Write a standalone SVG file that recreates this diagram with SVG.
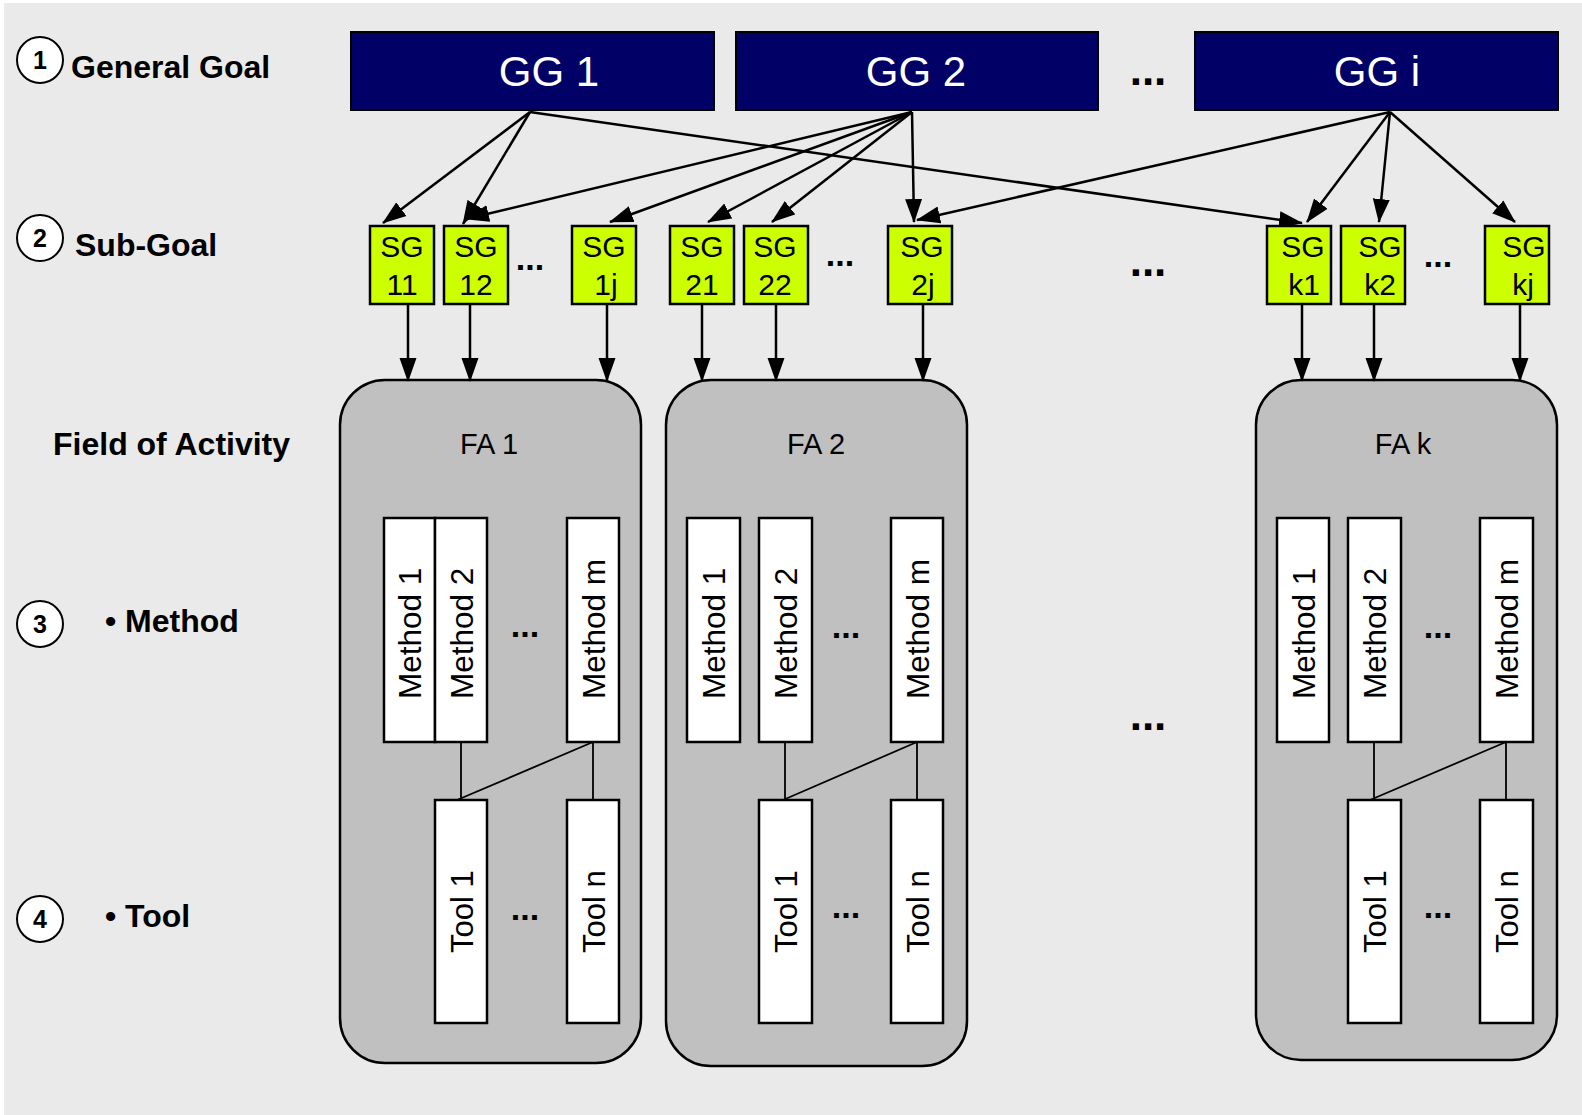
<svg xmlns="http://www.w3.org/2000/svg" width="1582" height="1115" viewBox="0 0 1582 1115">
<style>
text{font-family:"Liberation Sans",Arial,sans-serif;fill:#000}
.lbl{font-size:32px;font-weight:bold}
.num{font-size:25px;font-weight:bold;text-anchor:middle}
.circ{fill:#fff;stroke:#000;stroke-width:2}
.gg{fill:#000066;stroke:#000;stroke-width:2}
.ggt{font-size:42px;fill:#fff;text-anchor:middle}
.sg{fill:#ccff00;stroke:#000;stroke-width:2.5}
.sgt{font-size:30px;text-anchor:middle}
.fa{fill:#c0c0c0;stroke:#000;stroke-width:2.5}
.fat{font-size:29px;text-anchor:middle}
.box{fill:#fff;stroke:#000;stroke-width:2.5}
.vt{font-size:31.5px}
.vtt{font-size:31px}
.dots{font-size:34px;font-weight:bold;text-anchor:middle}
.bdots{font-size:44px;font-weight:bold;text-anchor:middle}
.arr{stroke:#000;stroke-width:2.5;fill:none;marker-end:url(#ah)}
.ln{stroke:#000;stroke-width:1.8;fill:none}
</style>
<defs>
<marker id="ah" markerUnits="userSpaceOnUse" markerWidth="24" markerHeight="18" refX="23" refY="8.5" orient="auto" viewBox="0 0 24 17">
<path d="M0,0 L24,8.5 L0,17 Z" fill="#000"/>
</marker>
</defs>
<rect x="4" y="3" width="1578" height="1112" fill="#eaeaea"/>

<g id="legend">
<circle class="circ" cx="40" cy="60" r="23"/><text class="num" x="40" y="69">1</text>
<text class="lbl" x="71" y="78">General Goal</text>
<circle class="circ" cx="40" cy="238" r="23"/><text class="num" x="40" y="247">2</text>
<text class="lbl" x="75" y="256">Sub-Goal</text>
<text class="lbl" x="53" y="455">Field of Activity</text>
<circle class="circ" cx="40" cy="624" r="23"/><text class="num" x="40" y="633">3</text>
<text class="lbl" x="105" y="632">• Method</text>
<circle class="circ" cx="40" cy="919" r="23"/><text class="num" x="40" y="928">4</text>
<text class="lbl" x="105" y="927">• Tool</text>
</g>

<g id="fa1">
<rect class="fa" x="340" y="380" width="301" height="683" rx="45" ry="45"/>
<text class="fat" x="489" y="454">FA 1</text>
</g>
<g id="fa2">
<rect class="fa" x="666" y="380" width="301" height="686" rx="45" ry="45"/>
<text class="fat" x="816" y="454">FA 2</text>
</g>
<g id="fak">
<rect class="fa" x="1256" y="380" width="301" height="680" rx="45" ry="45"/>
<text class="fat" x="1403" y="454">FA k</text>
</g>

<g id="connectors">
<path class="arr" d="M530,112 L383,223"/>
<path class="arr" d="M530,112 L463,224"/>
<path class="arr" d="M530,112 L1302,223"/>
<path class="arr" d="M912,112 L466,219"/>
<path class="arr" d="M912,112 L610,222"/>
<path class="arr" d="M912,112 L708,222"/>
<path class="arr" d="M912,112 L772,222"/>
<path class="arr" d="M912,112 L914,222"/>
<path class="arr" d="M1390,112 L917,220"/>
<path class="arr" d="M1390,112 L1307,222"/>
<path class="arr" d="M1390,112 L1379,222"/>
<path class="arr" d="M1390,112 L1515,222"/>
<path class="arr" d="M408,305 L408,381"/>
<path class="arr" d="M470,305 L470,381"/>
<path class="arr" d="M607,305 L607,381"/>
<path class="arr" d="M702,305 L702,381"/>
<path class="arr" d="M776,305 L776,381"/>
<path class="arr" d="M923,305 L923,381"/>
<path class="arr" d="M1302,305 L1302,381"/>
<path class="arr" d="M1374,305 L1374,381"/>
<path class="arr" d="M1520,305 L1520,381"/>
<path class="ln" d="M461,742 L461,800 M593,742 L457,800 M593,742 L593,800"/>
<path class="ln" d="M785,742 L785,800 M917,742 L783,800 M917,742 L917,800"/>
<path class="ln" d="M1374,742 L1374,800 M1506,742 L1370,800 M1506,742 L1506,800"/>
</g>

<g id="gg1"><rect class="gg" x="351" y="32" width="363" height="78"/><text class="ggt" x="549" y="86">GG 1</text></g>
<g id="gg2"><rect class="gg" x="736" y="32" width="362" height="78"/><text class="ggt" x="916" y="86">GG 2</text></g>
<g id="ggi"><rect class="gg" x="1195" y="32" width="363" height="78"/><text class="ggt" x="1377" y="86">GG i</text></g>
<text class="bdots" x="1148" y="85">...</text>

<g id="sg11"><rect class="sg" x="370" y="226" width="64" height="78"/><text class="sgt" x="402" y="257">SG</text><text class="sgt" x="402" y="295">11</text></g>
<g id="sg12"><rect class="sg" x="444" y="226" width="64" height="78"/><text class="sgt" x="476" y="257">SG</text><text class="sgt" x="476" y="295">12</text></g>
<g id="sg1j"><rect class="sg" x="572" y="226" width="64" height="78"/><text class="sgt" x="604" y="257">SG</text><text class="sgt" x="606" y="295">1j</text></g>
<g id="sg21"><rect class="sg" x="670" y="226" width="64" height="78"/><text class="sgt" x="702" y="257">SG</text><text class="sgt" x="702" y="295">21</text></g>
<g id="sg22"><rect class="sg" x="744" y="226" width="64" height="78"/><text class="sgt" x="775" y="257">SG</text><text class="sgt" x="775" y="295">22</text></g>
<g id="sg2j"><rect class="sg" x="888" y="226" width="64" height="78"/><text class="sgt" x="922" y="257">SG</text><text class="sgt" x="923" y="295">2j</text></g>
<g id="sgk1"><rect class="sg" x="1267" y="226" width="64" height="78"/><text class="sgt" x="1303" y="257">SG</text><text class="sgt" x="1304" y="295">k1</text></g>
<g id="sgk2"><rect class="sg" x="1341" y="226" width="64" height="78"/><text class="sgt" x="1380" y="257">SG</text><text class="sgt" x="1380" y="295">k2</text></g>
<g id="sgkj"><rect class="sg" x="1485" y="226" width="64" height="78"/><text class="sgt" x="1524" y="257">SG</text><text class="sgt" x="1523" y="295">kj</text></g>
<text class="dots" x="530" y="270">...</text>
<text class="dots" x="840" y="266">...</text>
<text class="dots" x="1438" y="267">...</text>
<text class="bdots" x="1148" y="276">...</text>
<text class="bdots" x="1148" y="730">...</text>

<g id="fa1-method1"><rect class="box" x="384" y="518" width="51" height="224"/><text class="vt" transform="translate(421,699) rotate(-90)">Method 1</text></g>
<g id="fa1-method2"><rect class="box" x="435" y="518" width="52" height="224"/><text class="vt" transform="translate(472.5,699) rotate(-90)">Method 2</text></g>
<g id="fa1-methodm"><rect class="box" x="567" y="518" width="52" height="224"/><text class="vt" transform="translate(604.5,699) rotate(-90)">Method m</text></g>
<text class="dots" x="525" y="637">...</text>
<g id="fa1-tool1"><rect class="box" x="435" y="800" width="52" height="223"/><text class="vtt" transform="translate(472.5,953) rotate(-90)">Tool 1</text></g>
<g id="fa1-tooln"><rect class="box" x="567" y="800" width="52" height="223"/><text class="vtt" transform="translate(604.5,953) rotate(-90)">Tool n</text></g>
<text class="dots" x="525" y="920">...</text>

<g id="fa2-method1"><rect class="box" x="687" y="518" width="53" height="224"/><text class="vt" transform="translate(725,699) rotate(-90)">Method 1</text></g>
<g id="fa2-method2"><rect class="box" x="759" y="518" width="53" height="224"/><text class="vt" transform="translate(797,699) rotate(-90)">Method 2</text></g>
<g id="fa2-methodm"><rect class="box" x="891" y="518" width="52" height="224"/><text class="vt" transform="translate(928.5,699) rotate(-90)">Method m</text></g>
<text class="dots" x="846" y="638">...</text>
<g id="fa2-tool1"><rect class="box" x="759" y="800" width="53" height="223"/><text class="vtt" transform="translate(797,953) rotate(-90)">Tool 1</text></g>
<g id="fa2-tooln"><rect class="box" x="891" y="800" width="52" height="223"/><text class="vtt" transform="translate(928.5,953) rotate(-90)">Tool n</text></g>
<text class="dots" x="846" y="918">...</text>

<g id="fak-method1"><rect class="box" x="1277" y="518" width="52" height="224"/><text class="vt" transform="translate(1314.5,699) rotate(-90)">Method 1</text></g>
<g id="fak-method2"><rect class="box" x="1348" y="518" width="53" height="224"/><text class="vt" transform="translate(1386,699) rotate(-90)">Method 2</text></g>
<g id="fak-methodm"><rect class="box" x="1480" y="518" width="53" height="224"/><text class="vt" transform="translate(1518,699) rotate(-90)">Method m</text></g>
<text class="dots" x="1438" y="638">...</text>
<g id="fak-tool1"><rect class="box" x="1348" y="800" width="53" height="223"/><text class="vtt" transform="translate(1386,953) rotate(-90)">Tool 1</text></g>
<g id="fak-tooln"><rect class="box" x="1480" y="800" width="53" height="223"/><text class="vtt" transform="translate(1518,953) rotate(-90)">Tool n</text></g>
<text class="dots" x="1438" y="918">...</text>
</svg>
